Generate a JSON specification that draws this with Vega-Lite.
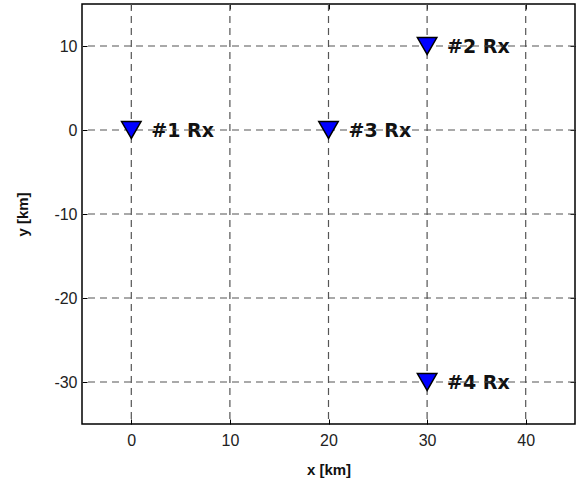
{
  "$schema": "https://vega.github.io/schema/vega-lite/v6.json",
  "width": 493,
  "height": 420,
  "autosize": "none",
  "padding": {"left": 82, "top": 4, "right": 8, "bottom": 68},
  "background": "white",
  "datasets": {
    "points": [
      {"x": 0, "y": 0, "label": "#1 Rx"},
      {"x": 30, "y": 10, "label": "#2 Rx"},
      {"x": 20, "y": 0, "label": "#3 Rx"},
      {"x": 30, "y": -30, "label": "#4 Rx"}
    ],
    "gridx": [{"x": 0}, {"x": 10}, {"x": 20}, {"x": 30}, {"x": 40}],
    "gridy": [{"y": -30}, {"y": -20}, {"y": -10}, {"y": 0}, {"y": 10}]
  },
  "config": {
    "view": {"stroke": "black", "strokeWidth": 1.5},
    "axis": {
      "grid": false,
      "domain": false,
      "tickColor": "black",
      "tickSize": -5,
      "labelFont": "Liberation Sans",
      "labelFontSize": 16,
      "labelColor": "#222222",
      "titleFont": "Liberation Sans",
      "titleFontSize": 15,
      "titleFontWeight": "bold",
      "titleColor": "#111111"
    }
  },
  "layer": [
    {
      "data": {"name": "points"},
      "mark": {"type": "text", "align": "left", "baseline": "middle", "dx": 20, "dy": 1, "fontSize": 19, "fontWeight": "bold", "font": "DejaVu Sans", "color": "#111111"},
      "encoding": {
        "x": {"field": "x", "type": "quantitative", "scale": {"domain": [-5, 45], "nice": false, "zero": false},
          "axis": {"title": "x  [km]", "values": [0, 10, 20, 30, 40], "labelExpr": "toString(datum.value)", "labelPadding": 13, "titlePadding": 14}},
        "y": {"field": "y", "type": "quantitative", "scale": {"domain": [-35, 15], "nice": false, "zero": false},
          "axis": {"title": "y [km]", "values": [-30, -20, -10, 0, 10], "labelExpr": "toString(datum.value)", "labelPadding": 10, "titlePadding": 23}},
        "text": {"field": "label"}
      }
    },
    {
      "data": {"name": "gridx"},
      "mark": {"type": "rule", "color": "#555555", "strokeDash": [7, 5], "strokeWidth": 1.2},
      "encoding": {"x": {"field": "x", "type": "quantitative", "axis": null}}
    },
    {
      "data": {"name": "gridy"},
      "mark": {"type": "rule", "color": "#555555", "strokeDash": [7, 5], "strokeWidth": 1.2},
      "encoding": {"y": {"field": "y", "type": "quantitative", "axis": null}}
    },
    {
      "data": {"name": "points"},
      "mark": {"type": "point", "shape": "triangle-down", "size": 380, "filled": true, "fill": "#0000ff", "stroke": "black", "strokeWidth": 1.5, "opacity": 1},
      "encoding": {
        "x": {"field": "x", "type": "quantitative", "axis": {"orient": "top", "title": null, "labels": false, "values": [0, 10, 20, 30, 40]}},
        "y": {"field": "y", "type": "quantitative", "axis": {"orient": "right", "title": null, "labels": false, "values": [-30, -20, -10, 0, 10]}}
      }
    }
  ],
  "resolve": {"axis": {"x": "independent", "y": "independent"}}
}
